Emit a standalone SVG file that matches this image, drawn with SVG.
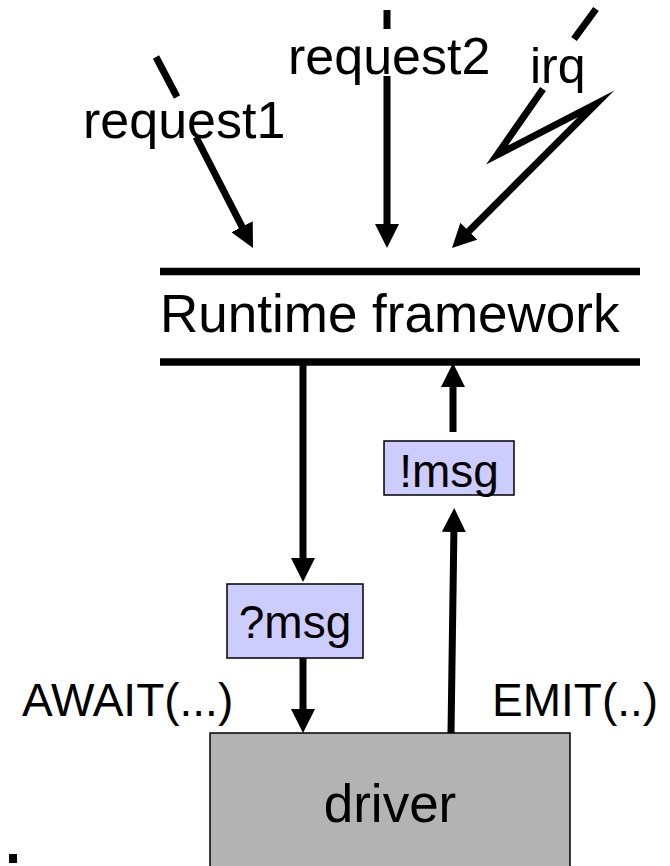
<svg xmlns="http://www.w3.org/2000/svg" width="670" height="866" viewBox="0 0 670 866">
  <style>
    .lbl { font-family: "Liberation Sans", Arial, sans-serif; fill: #000; }
    .wire { stroke: #000; stroke-width: 7; fill: none; stroke-linecap: butt; }
    .bar { stroke: #000; stroke-width: 7.5; }
    .msg { fill: #ccccff; stroke: #000; stroke-width: 1.5; }
    .drv { fill: #b3b3b3; stroke: #000; stroke-width: 1.5; }
  </style>
  <defs>
    <!-- solid triangular head; path ends 16px short of the tip -->
    <marker id="head" viewBox="0 0 24 24" refX="8" refY="12" markerWidth="24" markerHeight="24" markerUnits="userSpaceOnUse" orient="auto">
      <path d="M0,0 L24,12 L0,24 z" fill="#000"/>
    </marker>
  </defs>

  <rect width="670" height="866" fill="#fff"/>

  <!-- incoming sources -->
  <g id="request1">
    <text class="lbl" x="83" y="138" font-size="52">request1</text>
  </g>
  <g id="request2">
    <text class="lbl" x="288" y="74" font-size="52">request2</text>
  </g>
  <g id="irq">
    <text class="lbl" x="530" y="83" font-size="50">irq</text>
  </g>

  <!-- runtime layer between two bars -->
  <g id="runtime">
    <line class="bar" x1="160" y1="271.5" x2="640" y2="271.5"/>
    <line class="bar" x1="160" y1="362" x2="640" y2="362"/>
    <text class="lbl" x="160" y="332" font-size="53">Runtime framework</text>
  </g>

  <g id="emit-msg">
    <rect class="msg" x="384" y="441" width="130" height="54"/>
    <text class="lbl" x="449" y="487" font-size="46" text-anchor="middle">!msg</text>
  </g>

  <g id="await-msg">
    <rect class="msg" x="227" y="584" width="136" height="74"/>
    <text class="lbl" x="295" y="638" font-size="46" text-anchor="middle">?msg</text>
  </g>

  <g id="driver">
    <rect class="drv" x="210" y="733" width="360" height="140"/>
    <text class="lbl" x="390" y="822" font-size="53" text-anchor="middle">driver</text>
  </g>

  <g id="await-label">
    <text class="lbl" x="22" y="716" font-size="46">AWAIT(...)</text>
  </g>
  <g id="emit-label">
    <text class="lbl" x="492" y="716" font-size="46">EMIT(..)</text>
  </g>

  <rect id="dot" x="9" y="854" width="8" height="9" fill="#000"/>

  <!-- connectors -->
  <g id="connectors">
    <!-- request1 -->
    <line class="wire" x1="156" y1="57" x2="177" y2="97"/>
    <line class="wire" x1="196" y1="137" x2="245.7" y2="233.8" marker-end="url(#head)"/>
    <!-- request2 -->
    <line class="wire" x1="387" y1="10" x2="387" y2="29"/>
    <line class="wire" x1="387" y1="76" x2="387" y2="232" marker-end="url(#head)"/>
    <!-- irq lightning -->
    <line class="wire" x1="596" y1="9" x2="574" y2="39"/>
    <polyline class="wire" stroke-linejoin="miter" stroke-miterlimit="10" points="543,89 497,155 596,104 463.3,236.7" marker-end="url(#head)"/>
    <!-- framework to ?msg -->
    <line class="wire" x1="303" y1="362" x2="303" y2="566" marker-end="url(#head)"/>
    <!-- ?msg to driver -->
    <line class="wire" x1="303" y1="658" x2="303" y2="717" marker-end="url(#head)"/>
    <!-- driver to !msg -->
    <line class="wire" x1="451" y1="733" x2="454" y2="524" marker-end="url(#head)"/>
    <!-- !msg to framework -->
    <line class="wire" x1="453" y1="432" x2="453" y2="379" marker-end="url(#head)"/>
  </g>
</svg>
